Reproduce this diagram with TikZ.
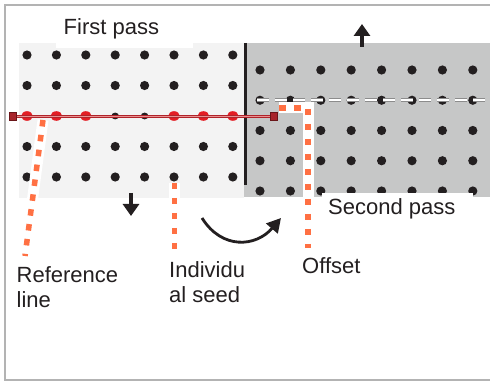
\documentclass[tikz,border=0pt]{standalone}
\usepackage{fontspec}
\setmainfont{Liberation Sans}
\usetikzlibrary{arrows.meta}
\definecolor{panelL}{HTML}{F3F3F3}
\definecolor{panelR}{HTML}{C6C7C7}
\definecolor{framegray}{HTML}{B3B3B3}
\definecolor{ink}{HTML}{231F20}
\definecolor{leadercol}{HTML}{FF7043}
\definecolor{refred}{HTML}{B0232A}
\definecolor{refpink}{HTML}{E89090}
\definecolor{dotred}{HTML}{E31E24}
\definecolor{sqred}{HTML}{A8242B}
\begin{document}
\begin{tikzpicture}[x=1pt,y=-1pt,
  lbl/.style={font=\fontsize{22}{25}\selectfont, inner sep=0pt, align=left, text=ink},
  dot/.style={fill=ink},
  reddot/.style={fill=dotred},
  leaderbg/.style={white, line width=11pt},
  leaderfg/.style={leadercol, line width=5.5pt, dash pattern=on 6.5pt off 8.5pt},
  bigarrow/.style={ink, line width=4.5pt, -{Triangle[length=12pt,width=16pt]}},
  marker/.style={fill=sqred, draw=refred!60!black, line width=0.6pt, minimum size=7.5pt, inner sep=0pt}
]
\useasboundingbox (0,0) rectangle (490,382);
% frame
\draw[framegray, line width=2.5pt] (491,5) -- (5,5) -- (5,380) -- (491,380);
% panels
\fill[panelL] (19,43) rectangle (244,198);
\fill[panelR] (244,43) rectangle (490,197);
\fill[white] (56,36) rectangle (193,48);
% left dots
\foreach \i in {0,...,7}{
  \foreach \j in {0,1,3,4}{
    \fill[dot] (27+29.4*\i, 55+30.5*\j) circle (4.6pt);
  }
}
\foreach \i in {0,1,2,5,6,7}{
  \fill[reddot] (27+29.4*\i, 116) ellipse (5.8pt and 4.8pt);
}
\foreach \i in {3,4}{
  \fill[dot] (27+29.4*\i, 116) ellipse (3.8pt and 3.4pt);
}
% right dots
\foreach \i in {0,...,7}{
  \foreach \j in {0,...,4}{
    \fill[dot] (260+30.4*\i, 70+30.25*\j) circle (4.6pt);
  }
}
% dashed white line
\draw[draw=gray!90, double=white, double distance=2.2pt, line width=0.7pt, dash pattern=on 12pt off 6pt] (257,100) -- (488,100);
% black divider
\draw[ink, line width=3.8pt] (245.5,43) -- (245.5,185);
% white box behind second pass
\fill[white] (322,193) rectangle (473,203);
% labels
\node[lbl, anchor=base west] (first) at (63.5,35) {First pass};
\node[lbl, anchor=base west] (second) at (328,215) {Second pass};
\node[lbl, anchor=north west] (ref) at (16.5,266) {Reference\\line};
\node[lbl, anchor=north west] (seed) at (169,261) {Individu\\al seed};
\node[lbl, anchor=north west] (off) at (302,257) {Offset};
% leaders
\coordinate (r1) at (43,120);
\coordinate (r2) at (25,256);
\coordinate (s1) at (174.5,183);
\coordinate (s2) at (174.5,250);
\coordinate (o1) at (279,108);
\coordinate (o2) at (308,108);
\coordinate (o3) at (308,248);
\draw[leaderbg] (r1) -- (r2);
\draw[leaderfg] (r1) -- (r2);
\draw[leaderbg] (s1) -- (s2);
\draw[leaderfg] (s1) -- (s2);
\draw[leaderbg] (o1) -- (o2) -- (o3);
\draw[leaderfg] (o1) -- (o2) -- (o3);
% reference line
\node[marker] (ma) at (13,116.5) {};
\node[marker] (mb) at (274,116.5) {};
\draw[refred, double=refpink, double distance=1pt, line width=0.9pt] (ma) -- (mb);
% arrows
\coordinate (upa) at (362,47);
\coordinate (upb) at (362,24);
\draw[bigarrow] (upa) -- (upb);
\coordinate (dna) at (131,193);
\coordinate (dnb) at (131,216);
\draw[bigarrow] (dna) -- (dnb);
\coordinate (ca) at (202,218);
\coordinate (cb) at (281,218);
\draw[ink, line width=2.8pt, -{Triangle[length=14pt,width=15pt]}] (ca) .. controls (222,250) and (256,247) .. (cb);
\end{tikzpicture}
\end{document}
